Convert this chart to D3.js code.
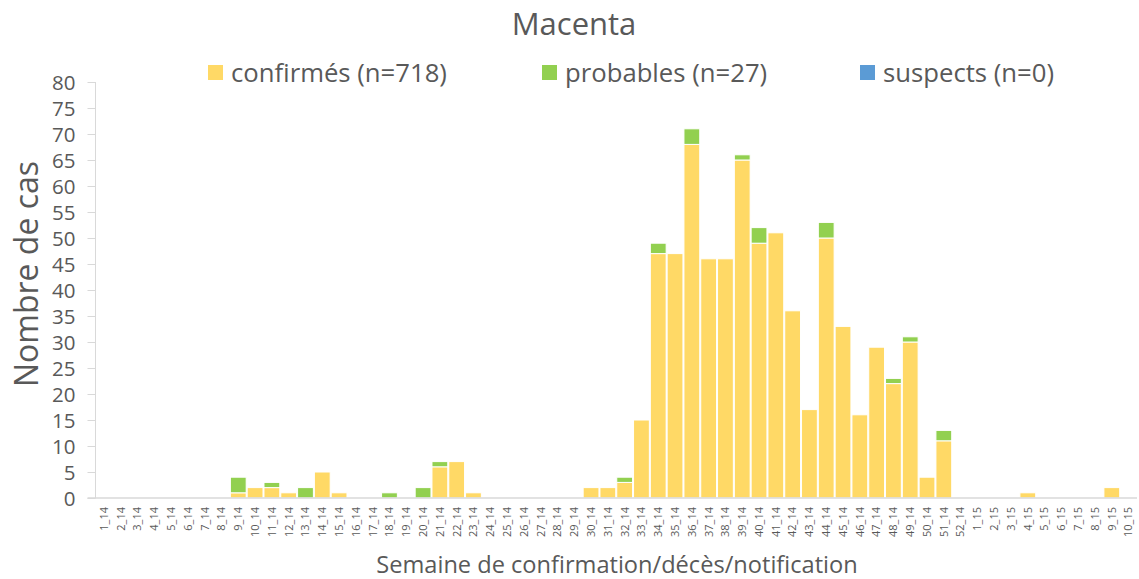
<!DOCTYPE html>
<html><head><meta charset="utf-8">
<script src="https://cdn.jsdelivr.net/npm/d3@7"></script>
<style>body{margin:0;background:#fff;} svg{display:block;font-family:"Open Sans",sans-serif;}</style>
</head><body>
<svg id="c" width="1139" height="579"></svg>
<script>
const weeks = [];
for (let i = 1; i <= 52; i++) weeks.push(i + "_14");
for (let i = 1; i <= 10; i++) weeks.push(i + "_15");
const confirmes = [0,0,0,0,0,0,0,0,1,2,2,1,0,5,1,0,0,0,0,0,6,7,1,0,0,0,0,0,0,2,2,3,15,47,47,68,46,46,65,49,51,36,17,50,33,16,29,22,30,4,11,0, 0,0,0,1,0,0,0,0,2,0];
const probables = [0,0,0,0,0,0,0,0,3,0,1,0,2,0,0,0,0,1,0,2,1,0,0,0,0,0,0,0,0,0,0,1,0,2,0,3,0,0,1,3,0,0,0,3,0,0,0,1,1,0,2,0, 0,0,0,0,0,0,0,0,0,0];
const suspects = weeks.map(() => 0);
const seriesNames = ["confirmés (n=718)", "probables (n=27)", "suspects (n=0)"];
const seriesColors = ["#FFD966", "#92D050", "#5B9BD5"];
const yTicks = d3.range(0, 81, 5);

const svg = d3.select("#c");
const m = {l: 95.5, r: 1137, t: 82, b: 498};
const x = d3.scaleBand().domain(weeks).range([m.l, m.r]).padding(0);
const y = d3.scaleLinear().domain([0, 80]).range([m.b, m.t]);

const rows = weeks.map((w, i) => ({w, c: confirmes[i], p: probables[i], s: suspects[i]}));
const stack = d3.stack().keys(["c", "p", "s"])(rows);

svg.append("g").selectAll("g").data(stack).join("g")
  .attr("fill", (d, i) => seriesColors[i])
  .selectAll("rect").data(d => d.filter(v => v[1] > v[0])).join("rect")
  .attr("x", d => x(d.data.w) + 0.5)
  .attr("width", x.bandwidth() - 1)
  .attr("y", d => y(d[1]))
  .attr("height", d => y(d[0]) - y(d[1]))
  .attr("stroke", "#fff").attr("stroke-width", 1);

// y axis
const ya = svg.append("g").attr("transform", `translate(${m.l},0)`)
  .call(d3.axisLeft(y).tickValues(yTicks).tickSize(8).tickPadding(12));
ya.select(".domain").attr("stroke", "#D9D9D9").attr("d", `M0,${m.t}V${m.b}`);
ya.selectAll(".tick line").attr("stroke", "#D9D9D9");
ya.selectAll(".tick text").attr("fill", "#595959").attr("font-size", 20.5).attr("font-family", "Open Sans").attr("dy", "0.35em");

// x axis
const xa = svg.append("g").attr("transform", `translate(0,${m.b})`)
  .call(d3.axisBottom(x).tickSize(0).tickPadding(0));
xa.select(".domain").attr("stroke", "#D9D9D9").attr("stroke-width", 1.5).attr("d", `M${m.l - 8},0H${m.r}`);
xa.selectAll(".tick text")
  .attr("fill", "#595959").attr("font-size", 11).attr("font-family", "Open Sans")
  .attr("transform", "rotate(-90)")
  .attr("text-anchor", "end").attr("x", -9).attr("y", 0).attr("dy", "0.35em");

// title
svg.append("text").attr("x", 574).attr("y", 34.5).attr("text-anchor", "middle")
  .attr("font-size", 31).attr("fill", "#595959").text("Macenta");

// legend
const legX = [208, 542, 860];
seriesNames.forEach((n, i) => {
  svg.append("rect").attr("x", legX[i]).attr("y", 65).attr("width", 15).attr("height", 15).attr("fill", seriesColors[i]);
  svg.append("text").attr("x", legX[i] + 23).attr("y", 82).attr("font-size", 25.7).attr("fill", "#595959").text(n);
});

// axis titles
svg.append("text").attr("transform", "translate(38,274) rotate(-90)").attr("text-anchor", "middle")
  .attr("font-size", 32).attr("fill", "#595959").text("Nombre de cas");
svg.append("text").attr("x", 617).attr("y", 573).attr("text-anchor", "middle")
  .attr("font-size", 23.6).attr("fill", "#595959").text("Semaine de confirmation/décès/notification");
</script>
</body></html>
